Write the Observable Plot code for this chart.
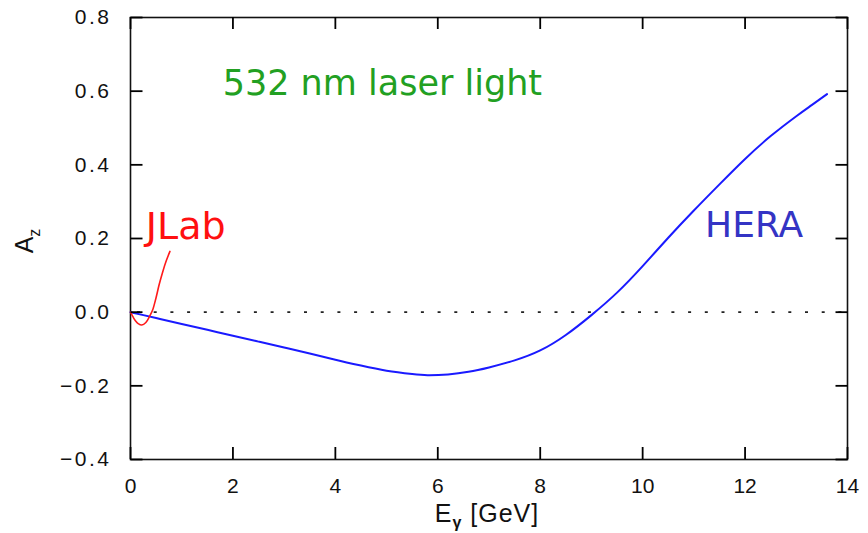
<!DOCTYPE html>
<html>
<head>
<meta charset="utf-8">
<script src="https://cdn.jsdelivr.net/npm/d3@7"></script>
<script src="https://cdn.jsdelivr.net/npm/@observablehq/plot@0.6"></script>
<style>
  html, body { margin: 0; padding: 0; background: #fff; }
  #chart svg { display: block; }
</style>
</head>
<body>
<div id="chart"></div>
<script>
// HERA curve (E_gamma in GeV, A_z)
const heraE  = [0, 0.5, 1, 1.5, 2, 2.5, 3, 3.5, 4, 4.5, 5, 5.5, 5.8, 6.2, 6.6, 7, 7.5, 8, 8.5, 9, 9.5, 10, 10.5, 11, 11.5, 12, 12.5, 13, 13.3, 13.6];
const heraAz = [0, -0.016, -0.032, -0.048, -0.064, -0.080, -0.096, -0.112, -0.129, -0.145, -0.159, -0.168, -0.171, -0.169, -0.162, -0.150, -0.131, -0.104, -0.062, -0.008, 0.053, 0.125, 0.202, 0.276, 0.347, 0.416, 0.478, 0.532, 0.562, 0.592];
// JLab curve
const jlabE  = [0, 0.05, 0.1, 0.15, 0.22, 0.3, 0.37, 0.43, 0.5, 0.56, 0.63, 0.7, 0.77];
const jlabAz = [0, -0.013, -0.024, -0.031, -0.035, -0.028, -0.012, 0.005, 0.040, 0.075, 0.110, 0.140, 0.165];
// Ticks
const xTicks = [0, 2, 4, 6, 8, 10, 12, 14];
const yTicks = [-0.4, -0.2, 0, 0.2, 0.4, 0.6, 0.8];
// Annotations (data coordinates)
const labelText  = ["532 nm laser light", "JLab", "HERA"];
const labelX     = [1.8, 0.3, 11.22];
const labelY     = [0.59, 0.20, 0.204];
const labelColor = ["#22a022", "#ff1010", "#3434c4"];
const labelSize  = [35, 38, 36];

const hera = heraE.map((e, i) => ({E: e, A: heraAz[i]}));
const jlab = jlabE.map((e, i) => ({E: e, A: jlabAz[i]}));
const labels = labelText.map((t, i) => ({t, x: labelX[i], y: labelY[i], c: labelColor[i], s: labelSize[i]}));

const fmt = d => d === 0 ? "0.0" : (d < 0 ? "\u2212" + Math.abs(d).toFixed(1) : d.toFixed(1));

const W = 868, H = 533, ML = 130, MR = 21, MT = 17, MB = 74;
const TICK = 12;
const innerW = W - ML - MR, innerH = H - MT - MB;
const xDom = [0, 14], yDom = [-0.4, 0.8];
// tick length expressed in data units
const tx = TICK * (xDom[1] - xDom[0]) / innerW;
const ty = TICK * (yDom[1] - yDom[0]) / innerH;
const tickStyle = {stroke: "black", strokeWidth: 1.8};

const plot = Plot.plot({
  width: W,
  height: H,
  marginLeft: ML,
  marginRight: MR,
  marginTop: MT,
  marginBottom: MB,
  style: {fontFamily: "'Liberation Sans', Arial, sans-serif", fontSize: "21px"},
  x: {domain: xDom, label: null},
  y: {domain: yDom, label: null},
  marks: [
    Plot.frame({stroke: "#111", strokeWidth: 1.6}),
    Plot.ruleY([0], {x1: xDom[0], x2: xDom[1], stroke: "#222", strokeWidth: 1.6, strokeDasharray: "3,13.7", strokeDashoffset: -7}),
    Plot.axisX({anchor: "bottom", ticks: xTicks, tickSize: 0, tickPadding: 19, tickFormat: d => String(d), fontSize: 21, fill: "#111"}),
    Plot.axisY({anchor: "left", ticks: yTicks, tickSize: 0, tickPadding: 19, tickFormat: fmt, fontSize: 21, fill: "#111"}),
    Plot.line(hera, {x: "E", y: "A", stroke: "#1a1aff", strokeWidth: 2, curve: "natural"}),
    Plot.line(jlab, {x: "E", y: "A", stroke: "#ff1a1a", strokeWidth: 1.6, curve: "catmull-rom"}),
    Plot.text(labels, {x: "x", y: "y", text: "t", fill: "c", fontSize: "s", textAnchor: "start", lineAnchor: "bottom", fontFamily: "'DejaVu Sans', sans-serif"}),
    // inward ticks on all four sides
    Plot.ruleX(xTicks, {x: d => d, y1: yDom[0], y2: yDom[0] + ty, ...tickStyle}),
    Plot.ruleX(xTicks, {x: d => d, y1: yDom[1] - ty, y2: yDom[1], ...tickStyle}),
    Plot.link(yTicks, {y1: d => d, y2: d => d, x1: xDom[0], x2: xDom[0] + tx, ...tickStyle}),
    Plot.link(yTicks, {y1: d => d, y2: d => d, x1: xDom[1] - tx, x2: xDom[1], ...tickStyle})
  ]
});

const svg = d3.select(plot);
svg.selectAll('[aria-label="y-axis tick label"] text').style("letter-spacing", "2.5px");

const yl = svg.append("text")
  .attr("transform", "translate(33,241) rotate(-90)")
  .attr("text-anchor", "middle")
  .attr("font-family", "'Liberation Sans', Arial, sans-serif")
  .attr("font-size", 25)
  .attr("fill", "#111");
yl.append("tspan").text("A");
yl.append("tspan").attr("font-size", 16).attr("dy", 7).text("z");

const xl = svg.append("text")
  .attr("x", 487).attr("y", 522)
  .attr("text-anchor", "middle")
  .attr("font-family", "'Liberation Sans', Arial, sans-serif")
  .attr("font-size", 25)
  .attr("fill", "#111")
  .style("letter-spacing", "1px");
xl.append("tspan").text("E");
xl.append("tspan").attr("font-size", 16).attr("dy", 6).attr("font-weight", "bold").text("\u03b3");
xl.append("tspan").attr("dy", -6).text(" [GeV]");

document.getElementById("chart").appendChild(plot);
</script>
</body>
</html>
